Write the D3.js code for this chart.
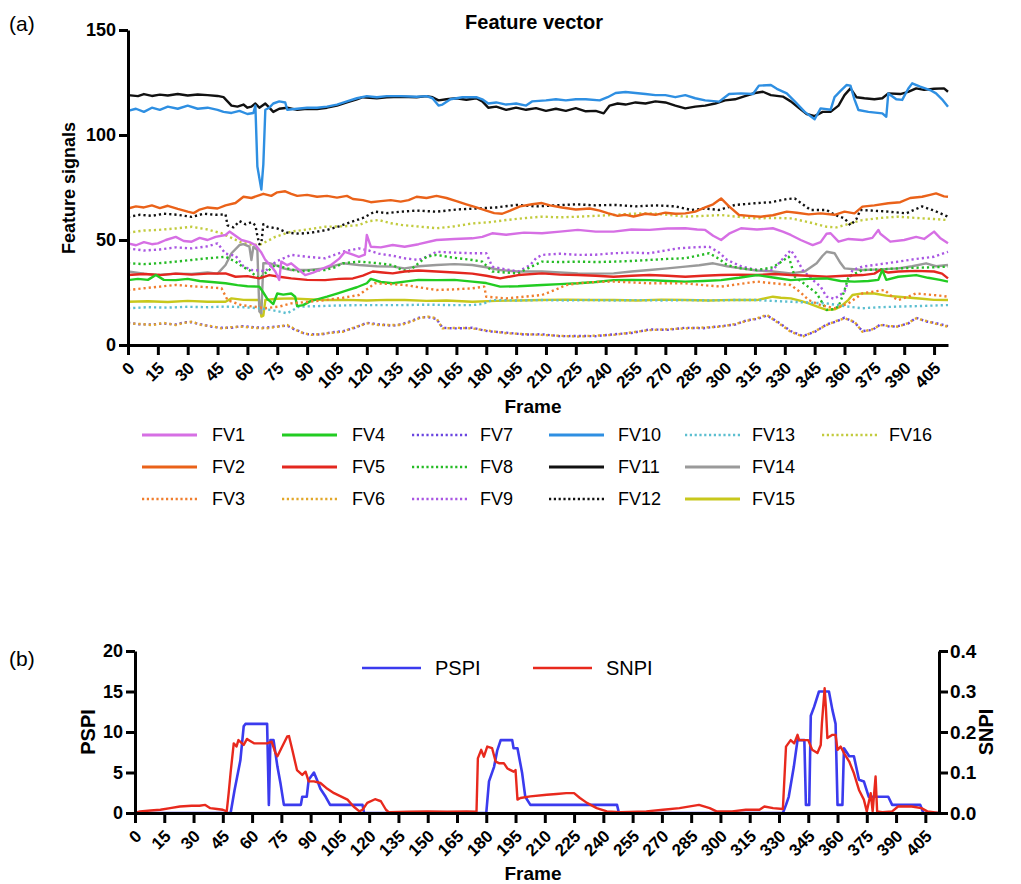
<!DOCTYPE html>
<html>
<head>
<meta charset="utf-8">
<script src="https://cdn.jsdelivr.net/npm/d3@7"></script>
<style>
  body { margin: 0; background: #fff; }
  svg { display: block; font-family: "Liberation Sans", Arial, Helvetica, sans-serif; }
</style>
</head>
<body>
<svg id="chart" width="1021" height="884"></svg>
<script>
// ---------- data: [frame, value] ----------
const frameTicks = d3.range(0, 406, 15);
const topYTicks = [0, 50, 100, 150];
const pspiTicks = [0, 5, 10, 15, 20];
const snpiTicks = [0, 0.1, 0.2, 0.3, 0.4];

const fv1 = [[0,48.4],[4,47.5],[8,49],[12,48],[15,48.4],[19,50],[24,51.5],[28,49.5],[32,49.2],[36,51],[40,50],[44,51.5],[49,52.4],[51,54],[54,52],[57,50],[61,49],[64,47.6],[67,44],[69,40.5],[72,37.5],[74,35],[76,31],[77,39.7],[80,38],[82,38.9],[86,35.7],[89,33.3],[93,34.5],[96,35.7],[102,38.1],[106,41],[109,44.4],[113,43],[116,42],[119,43],[120,52.4],[122,46.8],[127,46.5],[133,47.6],[139,46.8],[146,48],[155,50],[164,50.5],[173,50.8],[178,51.5],[183,53.2],[190,52.5],[199,53.5],[208,53.2],[217,54],[226,54.8],[235,54],[244,54],[253,55],[262,54.8],[271,55.5],[280,55.6],[286,55],[290,54.8],[294,52],[298,50],[302,53],[308,55.6],[316,55],[324,55.6],[329,54],[333,52.4],[338,50],[344,47.6],[348,49],[351,53],[353,53.2],[357,49.2],[362,50.5],[369,50],[374,51],[377,54.8],[378,53],[383,49.2],[390,50],[396,51.5],[400,50.5],[405,54],[408,51],[412,48.4]];
const fv2 = [[0,65],[4,66],[8,65.5],[12,66.5],[16,65.2],[20,66.3],[25,64.8],[30,63.5],[33,62.8],[36,64.5],[40,65.5],[45,65],[49,66.5],[54,67.6],[58,70.6],[62,70],[65,71],[68,72],[72,71],[75,72.7],[79,73.2],[82,72],[85,71],[90,71.5],[95,70.6],[100,71],[105,70.2],[110,71],[113,69.5],[118,69],[122,68],[127,68.5],[132,69],[137,68.3],[141,69],[145,70.6],[150,70],[155,71],[160,70],[165,68.5],[170,67],[175,65.5],[180,64],[184,62.8],[188,62.5],[192,64],[197,66],[203,67],[208,67.6],[212,66.5],[218,65.5],[225,64.5],[232,65],[237,64],[241,62.8],[246,61.5],[250,62],[254,61.2],[260,62.5],[265,62],[270,63],[275,62.5],[280,62.7],[285,63.5],[290,65.5],[294,67],[298,69.8],[302,66],[307,61.9],[312,61.5],[318,61.1],[324,61.8],[331,63.5],[336,63],[342,62.2],[348,62.7],[355,62],[360,63.5],[365,62.7],[369,65.9],[375,66.5],[382,67.5],[388,68],[393,70],[399,70.6],[403,71.5],[406,72.2],[410,70.8],[412,70.6]];
const fv3 = [[0,26.2],[8,27],[16,27.8],[24,28.6],[32,28],[40,27.5],[47,27],[50,21.4],[54,20],[57,19],[63,18.3],[69,17.5],[76,18.3],[82,19.8],[90,20.5],[99,21.4],[108,22.5],[116,23.8],[120,26.5],[124,29.4],[132,29],[139,28.6],[146,27.5],[155,26.2],[164,26.5],[173,27],[179,27.8],[180,23],[190,22.2],[199,23],[208,23.8],[214,26],[220,28.5],[226,29.4],[235,30],[244,30.2],[253,29.8],[262,29.4],[271,29.4],[280,29.4],[289,28.5],[298,27.8],[307,29],[316,30.2],[324,29.4],[333,28.6],[338,25],[342,21.4],[348,19],[355,17.5],[362,19.8],[366,22.5],[369,24.6],[375,25.5],[380,26.2],[384,23],[387,21.4],[392,23],[396,24.6],[402,24],[408,23.5],[412,23]];
const fv4 = [[0,30.9],[5,31.5],[10,31],[14,33.3],[18,31],[24,30.9],[30,31.5],[36,30.5],[42,30],[49,29.4],[55,28.5],[60,28],[66,27.8],[68,25],[70,22],[73,19.5],[75,24.5],[78,24],[82,24.5],[84,23],[85,18.5],[88,19],[92,21],[96,22],[100,23],[105,24.5],[110,26],[115,27.5],[120,29.4],[122,31.5],[127,30],[133,29.4],[139,30.2],[146,31],[155,30.9],[164,31],[173,30.2],[180,29.5],[187,27.8],[196,28],[208,28.6],[217,29],[226,29.4],[235,30],[244,30.9],[253,31],[262,30.9],[271,30.5],[280,30.2],[289,30.5],[298,30.9],[307,32],[316,33.3],[325,32],[333,30.9],[342,31.5],[351,31.7],[358,30.5],[365,30.2],[372,30.5],[377,31],[379,35.7],[381,31],[387,32.5],[396,33.3],[402,32],[408,31],[412,30.2]];
const fv5 = [[0,33.3],[8,33.8],[16,33.3],[24,34],[32,33.5],[40,34],[49,34.1],[54,32.5],[60,32.8],[66,31.7],[71,33.3],[76,32.5],[82,31.7],[90,31],[99,30.9],[106,31.5],[113,31.7],[118,33],[123,35],[128,34.5],[133,34.1],[139,35],[146,35.5],[155,35],[164,34.5],[173,34],[180,33],[187,31.7],[196,33.3],[208,34.1],[217,33.5],[226,33.3],[235,33],[244,32.5],[253,33],[262,33.3],[271,33],[280,32.5],[289,33],[298,33.3],[307,33.5],[316,33.3],[325,33.8],[333,33.3],[342,33],[351,32.5],[360,33],[369,33.3],[375,34],[378,35.7],[382,34.5],[387,35],[396,35.3],[405,35],[409,34],[412,31.7]];
const fv6 = [[0,10.3],[6,10],[12,9.5],[18,10.5],[24,9.5],[28,10.5],[32,11.1],[37,9.5],[42,9],[47,7.9],[52,8.5],[57,8.7],[63,8.2],[69,7.9],[74,8.5],[80,9.5],[83,8],[86,6.3],[89,5.5],[92,4.8],[97,5.2],[102,5.8],[108,6.3],[114,8.5],[120,10.3],[126,9.5],[133,9.5],[137,9.5],[142,11],[147,13],[151,13.5],[155,12.7],[158,7.9],[165,8.2],[173,7.9],[181,6.8],[190,5.6],[199,5.2],[208,4.8],[217,4.4],[226,4],[235,4.5],[244,4.8],[253,6],[262,7.1],[271,7.5],[280,7.9],[289,8.3],[298,8.7],[305,10],[311,11.5],[316,12.7],[321,14.3],[326,11],[333,6.3],[339,4],[345,6.5],[351,9.5],[356,11.5],[360,12.7],[365,11.1],[369,6.3],[374,7.5],[378,9.5],[383,9],[387,8.7],[392,10.5],[396,12.7],[401,11.5],[405,10.3],[412,8.7]];
const fv7 = [[0,10.6],[6,9.8],[12,9.8],[18,10.2],[24,9.8],[28,10.8],[32,10.8],[37,9.8],[42,8.7],[47,8.2],[52,8.2],[57,9],[63,8.5],[69,8.2],[74,8.8],[80,9.2],[83,7.7],[86,6.6],[89,5.2],[92,5.1],[97,5],[102,6],[108,6.6],[114,8.2],[120,10.6],[126,9.8],[133,9.2],[137,9.8],[142,11.3],[147,13.3],[151,13.2],[155,12.4],[158,8.2],[165,7.9],[173,8.2],[181,6.5],[190,5.9],[199,5],[208,5.1],[217,4.2],[226,4.3],[235,4.2],[244,5.1],[253,5.7],[262,7.4],[271,7.2],[280,8.2],[289,8],[298,9],[305,9.7],[311,11.8],[316,12.4],[321,14],[326,11.3],[333,6.6],[339,4.3],[345,6.2],[351,9.8],[356,11.2],[360,13],[365,10.8],[369,6.6],[374,7.2],[378,9.8],[383,8.7],[387,9],[392,10.2],[396,13],[401,11.2],[405,10.6],[412,9]];
const fv8 = [[0,39],[8,38.5],[16,39],[24,39.7],[32,40.5],[40,41.3],[49,42],[54,39.7],[58,37],[61,35.7],[64,33],[66,31.7],[70,35],[74,38.1],[80,36.5],[86,35],[92,35.5],[99,35.7],[104,37],[108,38.9],[116,39.7],[125,39],[133,38.1],[137,36],[141,35],[146,39],[150,42],[155,42.9],[164,41.5],[173,40.5],[178,39.7],[183,35],[190,34.5],[196,34.1],[202,37],[208,39.7],[217,39.5],[226,39.7],[235,39.5],[244,39.7],[253,40],[262,40.5],[271,41],[280,41.3],[286,42.5],[292,43.7],[297,41],[301,38.1],[308,36.5],[316,35.7],[324,37],[332,42],[335,32.5],[340,29],[346,24.6],[351,16.7],[354,17],[357,18.3],[360,26],[362,32.5],[369,35.7],[378,36],[387,36.5],[396,36.8],[405,37],[412,37.3]];
const fv9 = [[0,46],[8,45],[16,45.5],[24,46.5],[32,46],[40,47],[45,48.4],[49,43.5],[54,42.5],[58,37.5],[62,35.7],[66,35.5],[69,35],[72,38],[75,40],[82,42.9],[90,42],[99,41.3],[104,43],[108,44.4],[116,46],[121,45],[126,43.5],[133,42.5],[139,41.3],[146,40.5],[150,42],[155,44.4],[164,44],[173,43.7],[180,43.7],[183,37.3],[190,36],[196,35],[202,38],[205,41.3],[208,42.9],[217,43.5],[226,42.9],[235,43],[244,43.7],[253,44],[262,43.7],[270,45],[276,46],[284,46.5],[292,46.8],[297,44],[301,40.5],[308,37.5],[316,35.7],[324,35.7],[328,40],[333,45.2],[336,41],[339,35.7],[344,31],[348,27.8],[351,23],[355,22],[358,24],[360,25.4],[364,35.7],[369,37.3],[378,38.5],[387,39.7],[396,41],[405,42],[412,44.4]];
const fv10 = [[0,111.5],[4,112.5],[8,111],[12,113],[16,112],[20,113.5],[25,112.5],[30,114],[35,112.5],[40,113],[45,112],[48,111],[52,110.5],[56,111.5],[60,110],[63,110.5],[64,114],[65,85],[67,74],[68,86],[69,112],[71,113],[73,115],[76,116],[79,115.5],[80,112],[85,112.5],[90,113],[95,113],[100,113.5],[105,114.5],[110,116],[115,117.5],[120,118.5],[125,118],[130,118.5],[137,118.5],[145,118.2],[150,118.5],[153,117.5],[156,114],[158,114.5],[162,117],[168,118],[175,118],[178,117],[181,115],[185,115.5],[190,114.5],[195,115],[200,114],[203,116],[210,116.5],[215,117],[220,116.5],[225,117],[230,117],[237,116.5],[241,118],[245,120],[250,120.5],[255,120],[260,119.5],[265,119],[270,119],[275,118],[280,119],[285,117.5],[290,116.5],[297,115.9],[302,119.5],[308,119.8],[314,119.5],[317,123.5],[323,123.8],[326,122],[331,119.8],[335,116],[340,111],[345,107.5],[348,112.7],[353,112],[355,118],[358,121],[361,123.8],[363,123.5],[365,117],[367,111.9],[372,111],[379,110.3],[381,108.7],[382,119.8],[386,117],[389,116.7],[392,122],[394,124.6],[398,123],[403,121.4],[406,119.8],[409,117],[412,113.5]];
const fv11 = [[0,119],[5,118.5],[8,119.5],[12,118.6],[16,119.2],[20,118.8],[25,119.5],[30,118.8],[35,119.3],[40,119],[45,118.6],[48,118],[50,116],[52,114],[55,113.5],[58,114.5],[60,113],[62,113.5],[64,115],[66,113],[69,115],[71,113],[73,111],[76,112.5],[80,113],[85,112],[90,112.5],[95,112.3],[100,113],[105,114],[110,115.5],[115,117],[118,118],[125,117.5],[130,118],[137,118.2],[145,118],[150,118.5],[153,118],[156,116.5],[160,117],[165,117.5],[170,116.8],[175,117.5],[178,116],[181,113],[185,113.5],[190,112],[195,113],[200,112],[205,112.8],[210,111.5],[215,112.5],[220,111.5],[225,112.8],[230,111.3],[235,111.5],[239,110.3],[242,114],[246,115],[250,114.5],[255,115.5],[260,115],[265,116],[270,115.5],[275,114],[280,112.7],[285,113.5],[290,114],[295,115],[300,116.5],[305,117],[310,118.5],[315,120],[319,120.6],[323,119],[329,118.3],[333,116],[337,113],[341,110],[345,109],[349,111],[353,111],[357,114],[360,119],[363,122.2],[366,118],[370,117.5],[375,117],[379,117.5],[382,119.8],[388,119.5],[392,120.5],[396,122.2],[400,121.5],[405,122],[410,122.2],[412,120.6]];
const fv12 = [[0,61],[6,62],[12,61.5],[18,62.5],[25,62],[32,61],[38,62.5],[44,62],[49,62.2],[50,57],[53,56],[56,59],[59,57.5],[62,58.5],[64,57],[65,52],[66,48],[67,48.5],[68,57.5],[70,56.3],[75,55.5],[80,53.5],[86,53],[92,53.5],[100,54.8],[106,56.5],[112,58.5],[118,60.5],[124,63.5],[130,62.8],[137,63.5],[145,64],[155,63.5],[165,64.5],[175,65],[185,65.5],[195,66.7],[205,66],[215,66.5],[225,67],[235,66.5],[245,66.7],[255,66],[265,66.5],[275,66],[283,64.3],[290,65],[297,64.3],[305,66.7],[315,67.5],[323,68],[331,69.5],[335,69.8],[339,67],[343,64.3],[351,64.3],[355,62],[360,60.3],[363,57],[366,60],[368,64.3],[374,64],[382,63.5],[391,62.7],[399,66],[405,64],[412,61.1]];
const fv13 = [[0,17.5],[10,18],[20,17.8],[30,18.2],[40,18],[49,18.3],[58,18],[66,17.5],[73,16.5],[80,15.1],[86,18.3],[95,18.5],[105,18.8],[116,19],[127,19],[139,19],[150,19.2],[162,19],[173,19],[178,19.5],[183,21.4],[195,21.2],[208,21.4],[220,21.2],[232,21.4],[244,21.2],[256,21.4],[268,21.2],[280,21.4],[292,21.2],[304,21.4],[316,21.4],[324,21],[333,20.6],[342,20.2],[351,19.8],[360,18.5],[369,17.5],[378,18],[387,18.3],[396,18.5],[405,18.8],[412,19]];
const fv14 = [[0,35],[8,34],[15,33.3],[24,34],[32,33.8],[40,34.5],[45,34],[49,38.1],[52,43.7],[56,47.6],[58,48],[61,46.8],[62,40.5],[63,46.8],[65,45.2],[66,16],[67,15],[68,38.9],[71,39],[74,38.1],[78,36.5],[82,35.7],[91,35.7],[99,36.5],[108,38.9],[116,38.1],[125,37.5],[133,37.3],[139,36.5],[146,37.5],[155,38.1],[164,38.5],[173,38.1],[180,37],[187,35.7],[196,35],[208,35],[217,34.5],[226,34.1],[235,34],[244,34.1],[253,35],[262,35.7],[271,36.5],[280,37.3],[287,38],[294,38.9],[301,37.5],[308,36.5],[316,35.5],[324,35],[333,34.1],[340,35],[346,38.9],[349,42.5],[351,44.4],[355,43.7],[358,39],[360,36.5],[369,35.7],[378,36],[387,36.5],[394,37.5],[401,38.9],[406,37.5],[412,38.1]];
const fv15 = [[0,20.6],[10,20.8],[20,20.5],[30,21],[40,20.6],[49,20.6],[52,22.2],[58,21.5],[66,21.4],[67,13.5],[68,14],[69,21.4],[75,22],[82,22.2],[90,21.8],[99,21.4],[110,21.5],[120,21.2],[130,21.5],[139,21.4],[150,21],[160,21.2],[173,20.6],[185,21],[196,21.2],[208,21.4],[220,21.6],[232,21.4],[244,21.4],[256,21.2],[268,21.6],[280,21.4],[292,21.2],[304,21.5],[316,21.4],[324,23],[328,22.5],[333,22.2],[338,21],[342,19.8],[347,18],[351,16.7],[355,17],[358,18.3],[362,21.5],[364,23.8],[369,24.6],[375,24.5],[381,23.5],[387,23],[393,22.5],[399,22],[405,21.5],[412,21.4]];
const fv16 = [[0,53.5],[8,54.5],[15,54.8],[24,55.5],[32,56.3],[40,55],[47,53.2],[52,51],[57,48.8],[62,47.8],[66,47.6],[70,49.5],[74,51.5],[82,54],[90,55],[99,56.3],[108,56.5],[116,57.1],[121,59],[126,59.5],[132,58],[138,57.1],[145,56.5],[155,55.6],[164,56.5],[173,57.9],[182,58.5],[190,59.5],[200,60.5],[208,61.1],[217,60.8],[226,61.1],[235,61.5],[244,61.9],[253,62.5],[262,62.7],[271,62],[280,61.1],[289,61.5],[298,61.9],[307,61],[316,60.3],[325,60.5],[333,60.3],[342,58.5],[351,56.3],[356,56],[360,57.1],[365,58.5],[369,59.5],[378,60.5],[387,61.1],[396,60.5],[405,60],[412,59.5]];

const pspi = [[0,0],[49,0],[51,2.8],[54,6.5],[55.7,10.7],[56.6,11],[67.7,11],[68.6,1],[69.4,9],[71,9],[73,5.7],[74.6,3.6],[76.3,1],[85,1],[85.7,2],[88,2],[89,4.1],[91.7,5],[93.4,4],[95,3],[97.7,2],[100,1],[116.6,1],[117.4,0],[180,0],[181.4,3.9],[184,5.7],[185.6,7.7],[187.4,9],[193.3,9],[194,8],[196,8],[198.4,4.9],[200,2],[202.6,1],[247,1],[248,0],[332,0],[333.6,1],[335,2],[337.6,5.7],[339.5,9],[343,9],[343.8,1],[345.5,1],[346.3,12],[348,13.1],[350.5,15],[355.6,15],[357.4,12.7],[359,11],[360,1],[362.5,1],[363.3,8],[366,7],[368.4,7],[371,4.1],[373.5,3.9],[376,2],[386,2],[388,1],[402.4,1],[404,0],[412,0]];
const snpi = [[0,0],[2.6,0.004],[8,0.006],[13,0.008],[18,0.012],[23,0.016],[29,0.018],[33,0.018],[36,0.02],[38.6,0.012],[42,0.01],[45,0.008],[47,0.004],[48,0.049],[49,0.1],[50.6,0.172],[52,0.164],[53,0.18],[55.7,0.168],[57.4,0.183],[59,0.178],[61,0.172],[67.7,0.172],[70,0.176],[72,0.148],[73,0.14],[75,0.16],[78,0.189],[78.9,0.19],[80.6,0.156],[83,0.106],[85.7,0.094],[87.4,0.102],[89,0.078],[91.7,0.078],[95,0.074],[98,0.062],[102,0.049],[108.9,0.033],[112,0.016],[115,0.004],[116.6,0.008],[119,0.025],[123,0.034],[126,0.029],[128.6,0.008],[130,0.002],[140,0.003],[150,0.004],[160,0.003],[170,0.004],[175,0.003],[175.7,0.135],[177.4,0.156],[178.8,0.139],[180.5,0.164],[183,0.16],[184.8,0.127],[186.5,0.123],[189,0.123],[190.8,0.11],[194,0.102],[195,0.106],[196,0.033],[197.5,0.037],[202.6,0.041],[211,0.045],[216,0.047],[221,0.049],[225,0.049],[228,0.037],[231.6,0.025],[236.6,0.012],[241.8,0.004],[248.6,0.002],[262,0.004],[270.6,0.008],[279,0.012],[289,0.02],[294.5,0.012],[298,0.004],[306,0.004],[313,0.008],[320,0.008],[322.5,0.016],[327,0.012],[332,0.01],[333.6,0.164],[336,0.18],[337.8,0.172],[339.5,0.193],[340.3,0.18],[345,0.18],[347,0.156],[349.7,0.148],[351.4,0.168],[352,0.222],[353.4,0.308],[354,0.263],[354.8,0.185],[357.4,0.193],[359,0.193],[360,0.156],[361.6,0.164],[363.3,0.148],[366,0.127],[368.4,0.098],[371,0.057],[373.5,0.033],[375,0.004],[377,0.049],[378,0.004],[379.5,0.09],[380.3,0.004],[383,0.002],[388,0.004],[391,0.016],[398,0.016],[403,0.012],[406,0.004],[412,0]];

// ---------- series styling ----------
const featureSeries = [
  { name: "FV1",  data: fv1,  color: "#d66fe4", dotted: false },
  { name: "FV2",  data: fv2,  color: "#ea6219", dotted: false },
  { name: "FV3",  data: fv3,  color: "#f07e2e", dotted: true  },
  { name: "FV4",  data: fv4,  color: "#22cc22", dotted: false },
  { name: "FV5",  data: fv5,  color: "#e3271f", dotted: false },
  { name: "FV6",  data: fv6,  color: "#e2a72a", dotted: true  },
  { name: "FV7",  data: fv7,  color: "#6a46e0", dotted: true  },
  { name: "FV8",  data: fv8,  color: "#25bb25", dotted: true  },
  { name: "FV9",  data: fv9,  color: "#a956e2", dotted: true  },
  { name: "FV10", data: fv10, color: "#2e8fe2", dotted: false },
  { name: "FV11", data: fv11, color: "#111111", dotted: false },
  { name: "FV12", data: fv12, color: "#111111", dotted: true  },
  { name: "FV13", data: fv13, color: "#5cbfd0", dotted: true  },
  { name: "FV14", data: fv14, color: "#9a9a9a", dotted: false },
  { name: "FV15", data: fv15, color: "#c8c81c", dotted: false },
  { name: "FV16", data: fv16, color: "#c2cb3e", dotted: true  }
];

const svg = d3.select("#chart");

function styleAxis(g, fontSize) {
  g.select(".domain").attr("stroke", "#000").attr("stroke-width", 3);
  g.selectAll(".tick line").attr("stroke", "#000").attr("stroke-width", 3);
  g.selectAll(".tick text")
    .attr("fill", "#000")
    .style("font-weight", "bold")
    .style("font-size", fontSize + "px")
    .style("font-family", "'Liberation Sans', Arial, sans-serif");
}

function rotateFrameLabels(g) {
  g.selectAll(".tick text")
    .attr("x", 0).attr("y", 0).attr("dy", "0.35em")
    .attr("transform", "translate(3,20) rotate(-45)")
    .style("text-anchor", "end");
}

// ================= (a) Feature vector =================
const xTop = d3.scaleLinear().domain([0, 412]).range([128, 948]);
const yTop = d3.scaleLinear().domain([0, 150]).range([345, 30]);

const lineTop = d3.line().x(d => xTop(d[0])).y(d => yTop(d[1]));

const plotA = svg.append("g");
// later series go underneath so the earlier ones sit on top
featureSeries.slice().reverse().forEach(s => {
  plotA.append("path")
    .datum(s.data)
    .attr("d", lineTop)
    .attr("fill", "none")
    .attr("stroke", s.color)
    .attr("stroke-width", 2.4)
    .attr("stroke-dasharray", s.dotted ? "2.2,3" : null)
    .attr("stroke-linejoin", "round");
});

const xAxisA = svg.append("g")
  .attr("transform", `translate(0,${yTop(0)})`)
  .call(d3.axisBottom(xTop).tickValues(frameTicks).tickSize(10).tickSizeOuter(0));
styleAxis(xAxisA, 17);
rotateFrameLabels(xAxisA);

const yAxisA = svg.append("g")
  .attr("transform", `translate(${xTop(0)},0)`)
  .call(d3.axisLeft(yTop).tickValues(topYTicks).tickSize(9).tickPadding(3).tickSizeOuter(0));
styleAxis(yAxisA, 18);

svg.append("text").attr("x", 9).attr("y", 31)
  .style("font-size", "21px").text("(a)");
svg.append("text").attr("x", 534).attr("y", 29)
  .attr("text-anchor", "middle").style("font-size", "20px").style("font-weight", "bold")
  .text("Feature vector");
svg.append("text")
  .attr("transform", "translate(75,188) rotate(-90)")
  .attr("text-anchor", "middle").style("font-size", "18px").style("font-weight", "bold")
  .text("Feature signals");
svg.append("text").attr("x", 533).attr("y", 413)
  .attr("text-anchor", "middle").style("font-size", "19px").style("font-weight", "bold")
  .text("Frame");

// legend: three rows, six columns
const legendColX = [142, 282, 412, 549, 685, 822];
const legendTextGap = [15, 15, 13, 14, 12, 12];
const legendRowY = [435, 467, 499];
const legend = svg.append("g");
featureSeries.forEach((s, i) => {
  const col = Math.floor(i / 3), row = i % 3;
  const x0 = legendColX[col], y0 = legendRowY[row];
  legend.append("line")
    .attr("x1", x0).attr("x2", x0 + 55).attr("y1", y0).attr("y2", y0)
    .attr("stroke", s.color)
    .attr("stroke-width", s.dotted ? 2.4 : 3)
    .attr("stroke-dasharray", s.dotted ? "2.2,2.6" : null);
  legend.append("text")
    .attr("x", x0 + 55 + legendTextGap[col]).attr("y", y0)
    .attr("dy", "0.36em")
    .style("font-size", "18px")
    .text(s.name);
});

// ================= (b) PSPI / SNPI =================
const xBot = d3.scaleLinear().domain([0, 412]).range([135, 939]);
const yPspi = d3.scaleLinear().domain([0, 20]).range([813, 651]);
const ySnpi = d3.scaleLinear().domain([0, 0.4]).range([813, 651]);

const linePspi = d3.line().x(d => xBot(d[0])).y(d => yPspi(d[1]));
const lineSnpi = d3.line().x(d => xBot(d[0])).y(d => ySnpi(d[1]));

svg.append("path").datum(pspi).attr("d", linePspi)
  .attr("fill", "none").attr("stroke", "#3b3bee").attr("stroke-width", 2.6)
  .attr("stroke-linejoin", "round");
svg.append("path").datum(snpi).attr("d", lineSnpi)
  .attr("fill", "none").attr("stroke", "#e8291d").attr("stroke-width", 2.4)
  .attr("stroke-linejoin", "round");

const xAxisB = svg.append("g")
  .attr("transform", `translate(0,${yPspi(0)})`)
  .call(d3.axisBottom(xBot).tickValues(frameTicks).tickSize(10).tickSizeOuter(0));
styleAxis(xAxisB, 17);
rotateFrameLabels(xAxisB);

const yAxisBL = svg.append("g")
  .attr("transform", `translate(${xBot(0)},0)`)
  .call(d3.axisLeft(yPspi).tickValues(pspiTicks).tickSize(9).tickPadding(3).tickSizeOuter(0));
styleAxis(yAxisBL, 18);

const yAxisBR = svg.append("g")
  .attr("transform", `translate(${xBot(412)},0)`)
  .call(d3.axisRight(ySnpi).tickValues(snpiTicks).tickSize(9).tickPadding(2).tickSizeOuter(0)
    .tickFormat(d3.format(".1f")));
styleAxis(yAxisBR, 19);

svg.append("text").attr("x", 9).attr("y", 666)
  .style("font-size", "21px").text("(b)");
svg.append("text")
  .attr("transform", "translate(95,732) rotate(-90)")
  .attr("text-anchor", "middle").style("font-size", "20px").style("font-weight", "bold")
  .text("PSPI");
svg.append("text")
  .attr("transform", "translate(993,732) rotate(-90)")
  .attr("text-anchor", "middle").style("font-size", "20px").style("font-weight", "bold")
  .text("SNPI");
svg.append("text").attr("x", 533).attr("y", 880)
  .attr("text-anchor", "middle").style("font-size", "19px").style("font-weight", "bold")
  .text("Frame");

const legendB = [
  { name: "PSPI", color: "#3b3bee", x: 362 },
  { name: "SNPI", color: "#e8291d", x: 533 }
];
legendB.forEach(l => {
  svg.append("line")
    .attr("x1", l.x).attr("x2", l.x + 59).attr("y1", 668).attr("y2", 668)
    .attr("stroke", l.color).attr("stroke-width", 2.6);
  svg.append("text")
    .attr("x", l.x + 73).attr("y", 668).attr("dy", "0.36em")
    .style("font-size", "20px").text(l.name);
});
</script>
</body>
</html>
